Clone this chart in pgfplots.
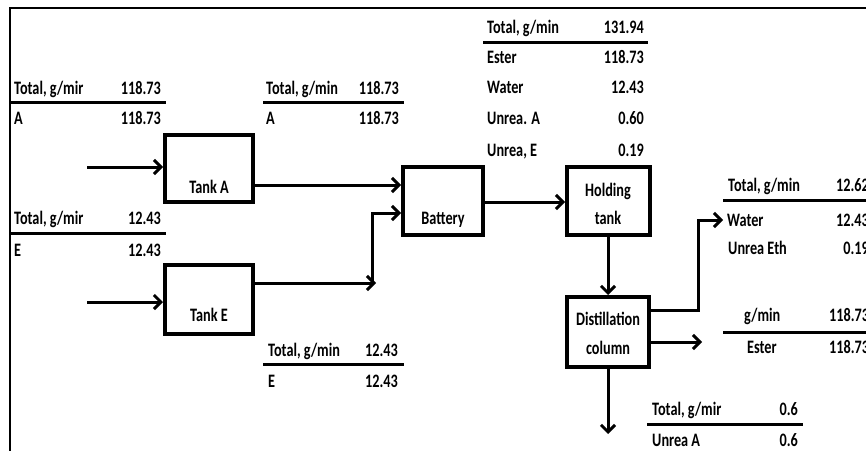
\documentclass[border=0pt]{standalone}
\usepackage{pgfplots}
\pgfplotsset{compat=1.18}
\usepackage{graphicx}
\usepackage{fontspec}
\setmainfont{Carlito}
\usetikzlibrary{arrows.meta}
\newcommand\T[1]{\scalebox{0.75}[1]{\fontsize{19bp}{22bp}\selectfont\bfseries #1}}
\begin{document}
\begin{tikzpicture}
\begin{axis}[
  scale only axis, width=866bp, height=451bp,
  xmin=0, xmax=866, ymin=0, ymax=451, y dir=reverse,
  axis lines=none, clip=true, clip mode=global,
  line cap=rect, line join=miter,
]
% border
\addplot[black, line width=2.5bp, line cap=butt] coordinates {(10,451) (10,8) (866,8)};
% boxes
\addplot[black, line width=4.5bp] coordinates {(165,135) (253,135) (253,202) (165,202) (165,135)};
\addplot[black, line width=4.5bp] coordinates {(165,265) (253,265) (253,334) (165,334) (165,265)};
\addplot[black, line width=4.5bp] coordinates {(403,167) (483,167) (483,235) (403,235) (403,167)};
\addplot[black, line width=4.5bp] coordinates {(567,167) (650,167) (650,235) (567,235) (567,167)};
\addplot[black, line width=4.5bp] coordinates {(567,297) (649,297) (649,367) (567,367) (567,297)};
% arrows
\pgfplotsset{arr/.style={black, line width=3bp, line cap=butt, -{Straight Barb[length=7bp, width=14bp, line width=3bp]}}}
\addplot[arr] coordinates {(87,167) (163,167)};
\addplot[arr] coordinates {(87,302) (163,302)};
\addplot[arr] coordinates {(253,185) (401,185)};
\addplot[arr] coordinates {(253,283) (376,283)};
\addplot[arr] coordinates {(372,284) (372,213) (401,213)};
\addplot[arr] coordinates {(483,202) (565,202)};
\addplot[arr] coordinates {(608,235) (608,295)};
\addplot[arr] coordinates {(649,310) (698,310) (698,220) (723,220)};
\addplot[arr] coordinates {(649,342) (702,342)};
\addplot[arr] coordinates {(608,367) (608,434)};
% table rules
\pgfplotsset{rule/.style={black, line width=3bp, line cap=butt}}
\addplot[rule] coordinates {(10,103) (166,103)};
\addplot[rule] coordinates {(10,233) (166,233)};
\addplot[rule] coordinates {(263,103) (404,103)};
\addplot[rule] coordinates {(263,364) (404,364)};
\addplot[rule] coordinates {(483,43) (648,43)};
\addplot[rule] coordinates {(723,200) (866,200)};
\addplot[rule] coordinates {(723,332) (866,332)};
\addplot[rule] coordinates {(647,424) (803,424)};
% box labels
\node[inner sep=0pt, anchor=base] at (209,193) {\T{Tank A}};
\node[inner sep=0pt, anchor=base] at (209,321) {\T{Tank E}};
\node[inner sep=0pt, anchor=base] at (443,224) {\T{Battery}};
\node[inner sep=0pt, anchor=base] at (608,196) {\T{Holding}};
\node[inner sep=0pt, anchor=base] at (608,224) {\T{tank}};
\node[inner sep=0pt, anchor=base] at (608,325) {\T{Distillation}};
\node[inner sep=0pt, anchor=base] at (608,354) {\T{column}};
% table A in
\node[inner sep=0pt, anchor=base west] at (14,94) {\T{Total, g/mir}};
\node[inner sep=0pt, anchor=base east] at (161,94) {\T{118.73}};
\node[inner sep=0pt, anchor=base west] at (14,124) {\T{A}};
\node[inner sep=0pt, anchor=base east] at (161,124) {\T{118.73}};
% table E in
\node[inner sep=0pt, anchor=base west] at (14,224) {\T{Total, g/mir}};
\node[inner sep=0pt, anchor=base east] at (161,224) {\T{12.43}};
\node[inner sep=0pt, anchor=base west] at (14,256) {\T{E}};
\node[inner sep=0pt, anchor=base east] at (161,256) {\T{12.43}};
% table A out
\node[inner sep=0pt, anchor=base west] at (266,94) {\T{Total, g/min}};
\node[inner sep=0pt, anchor=base east] at (399,94) {\T{118.73}};
\node[inner sep=0pt, anchor=base west] at (266,124) {\T{A}};
\node[inner sep=0pt, anchor=base east] at (399,124) {\T{118.73}};
% table E out
\node[inner sep=0pt, anchor=base west] at (268,356) {\T{Total, g/min}};
\node[inner sep=0pt, anchor=base east] at (398,356) {\T{12.43}};
\node[inner sep=0pt, anchor=base west] at (268,387) {\T{E}};
\node[inner sep=0pt, anchor=base east] at (398,387) {\T{12.43}};
% table battery out
\node[inner sep=0pt, anchor=base west] at (487,34) {\T{Total, g/min}};
\node[inner sep=0pt, anchor=base east] at (644,34) {\T{131.94}};
\node[inner sep=0pt, anchor=base west] at (487,64) {\T{Ester}};
\node[inner sep=0pt, anchor=base east] at (644,64) {\T{118.73}};
\node[inner sep=0pt, anchor=base west] at (487,93) {\T{Water}};
\node[inner sep=0pt, anchor=base east] at (644,93) {\T{12.43}};
\node[inner sep=0pt, anchor=base west] at (487,124) {\T{Unrea. A}};
\node[inner sep=0pt, anchor=base east] at (644,124) {\T{0.60}};
\node[inner sep=0pt, anchor=base west] at (487,156) {\T{Unrea, E}};
\node[inner sep=0pt, anchor=base east] at (644,156) {\T{0.19}};
% table water
\node[inner sep=0pt, anchor=base west] at (728,191) {\T{Total, g/min}};
\node[inner sep=0pt, anchor=base east] at (869,191) {\T{12.62}};
\node[inner sep=0pt, anchor=base west] at (727,226) {\T{Water}};
\node[inner sep=0pt, anchor=base east] at (869,226) {\T{12.43}};
\node[inner sep=0pt, anchor=base west] at (728,254) {\T{Unrea Eth}};
\node[inner sep=0pt, anchor=base east] at (869,254) {\T{0.19}};
% table ester
\node[inner sep=0pt, anchor=base west] at (744,321) {\T{g/min}};
\node[inner sep=0pt, anchor=base west] at (829,321) {\T{118.73}};
\node[inner sep=0pt, anchor=base west] at (747,353) {\T{Ester}};
\node[inner sep=0pt, anchor=base west] at (829,353) {\T{118.73}};
% table unrea A
\node[inner sep=0pt, anchor=base west] at (652,415) {\T{Total, g/mir}};
\node[inner sep=0pt, anchor=base east] at (798,415) {\T{0.6}};
\node[inner sep=0pt, anchor=base west] at (652,446) {\T{Unrea A}};
\node[inner sep=0pt, anchor=base east] at (798,446) {\T{0.6}};
\end{axis}
\pgfresetboundingbox
\useasboundingbox (current axis.south west) rectangle (current axis.north east);
\end{tikzpicture}
\end{document}
